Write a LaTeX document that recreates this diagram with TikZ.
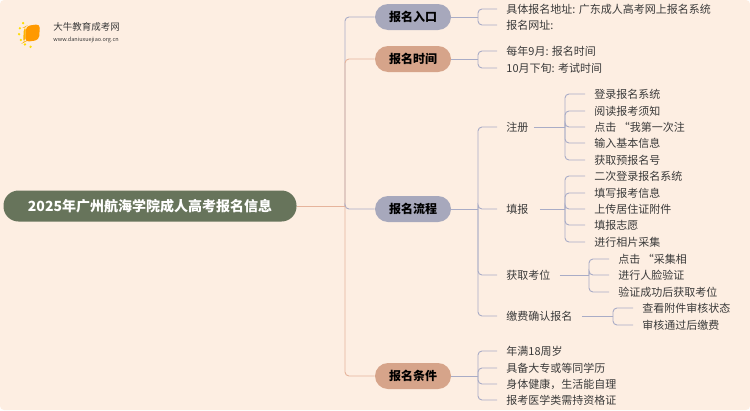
\documentclass[tikz,border=0pt]{standalone}
\usepackage{fontspec}
\setmainfont{Noto Sans CJK SC}
\definecolor{bgc}{HTML}{FDEEE2}
\definecolor{rootc}{HTML}{67745B}
\definecolor{grayc}{HTML}{A7A8BC}
\definecolor{salmc}{HTML}{D6A48A}
\definecolor{glink}{HTML}{A9ACC6}
\definecolor{slink}{HTML}{E6B49C}
\definecolor{txt}{HTML}{3A3A3A}
\begin{document}
\begin{tikzpicture}[x=1pt,y=-1pt]

\tikzset{%
every node/.style={inner sep=1pt, text=txt, font=\fontsize{11}{12}\selectfont},%
every path/.style={line width=.9pt, rounded corners=4pt}%
}

\tikzstyle{root}=[rounded corners=15pt, fill=rootc, minimum width=293, minimum height=31, text=white, font=\fontsize{14}{16}\selectfont\bfseries]
\tikzstyle{topic}=[rounded corners=13pt, minimum width=76, minimum height=26, font=\fontsize{12}{14}\selectfont\bfseries, text=black]
\tikzstyle{leaf}=[anchor=west]
\tikzstyle{gline}=[draw=glink]
\tikzstyle{sline}=[draw=slink]

\fill[bgc] (0,0) rectangle (750,410);

% logo
\fill[orange!80!yellow] (26,26) -- (40,24) -- (39,40) -- (25,42) -- cycle;
\fill[orange!60!yellow] (24,27) -- (26,26) -- (25,42) -- (23,43) -- cycle;
\foreach \a in {100,125,...,225} \fill[yellow!80!orange] (33,33) ++(\a:14) circle (1.3);
\node[leaf, font=\fontsize{9.5}{10}\selectfont] (logo) at (52,27) {大牛教育成考网};
\node[leaf, font=\fontsize{5.5}{6}\selectfont] (url) at (52,40) {www.daniuxuejiao.org.cn};

% root and topics
\node[root] (root) at (150,206) {2025年广州航海学院成人高考报名信息};
\coordinate (trunk) at (345,206);
\node[topic, fill=grayc] (entry) at (413,17) {报名入口};
\node[topic, fill=salmc] (time) at (413,59) {报名时间};
\node[topic, fill=grayc] (flow) at (413,209) {报名流程};
\node[topic, fill=salmc] (cond) at (413,376) {报名条件};
\draw[sline] (root.east) -- (trunk);
\draw[gline] (trunk) |- (entry.west);
\draw[sline] (trunk) |- (time.west);
\draw[gline] (trunk) |- (flow.west);
\draw[sline] (trunk) |- (cond.west);

% leaves of 报名入口 and 报名时间
\node[leaf] (e1) at (505,9) {具体报名地址: 广东成人高考网上报名系统};
\node[leaf] (e2) at (505,25) {报名网址:};
\node[leaf] (t1) at (505,51) {每年9月: 报名时间};
\node[leaf] (t2) at (505,68) {10月下旬: 考试时间};
\coordinate (be) at (478,17);
\coordinate (bt) at (478,59);
\draw[gline] (entry.east) -- (be);
\draw[gline] (time.east) -- (bt);
\foreach \c in {e1,e2} \draw[gline] (be) |- ([xshift=-8pt]\c.west);
\foreach \c in {t1,t2} \draw[gline] (bt) |- ([xshift=-8pt]\c.west);

% 报名流程
\node[leaf] (reg) at (505,127) {注册};
\node[leaf] (fill) at (505,209) {填报};
\node[leaf] (seat) at (505,275) {获取考位};
\node[leaf] (pay) at (505,316) {缴费确认报名};
\coordinate (bf) at (478,209);
\draw[gline] (flow.east) -- (bf);
\foreach \c in {reg,fill,seat,pay} \draw[gline] (bf) |- ([xshift=-8pt]\c.west);

\node[leaf] (r1) at (593,94) {登录报名系统};
\node[leaf] (r2) at (593,111) {阅读报考须知};
\node[leaf] (r3) at (593,127) {点击 “我第一次注};
\node[leaf] (r4) at (593,143) {输入基本信息};
\node[leaf] (r5) at (593,160) {获取预报名号};
\coordinate (br) at (565,127);
\draw[gline] ([xshift=4pt]reg.east) -- (br);
\foreach \c in {r1,r2,r3,r4,r5} \draw[gline] (br) |- ([xshift=-8pt]\c.west);

\node[leaf] (f1) at (593,176) {二次登录报名系统};
\node[leaf] (f2) at (593,193) {填写报考信息};
\node[leaf] (f3) at (593,209) {上传居住证附件};
\node[leaf] (f4) at (593,225) {填报志愿};
\node[leaf] (f5) at (593,242) {进行相片采集};
\coordinate (bp) at (565,209);
\draw[gline] ([xshift=10pt]fill.east) -- (bp);
\foreach \c in {f1,f2,f3,f4,f5} \draw[gline] (bp) |- ([xshift=-8pt]\c.west);

\node[leaf] (s1) at (617,259) {点击 “采集相};
\node[leaf] (s2) at (617,275) {进行人脸验证};
\node[leaf] (s3) at (617,292) {验证成功后获取考位};
\coordinate (bs) at (589,275);
\draw[gline] ([xshift=8pt]seat.east) -- (bs);
\foreach \c in {s1,s2,s3} \draw[gline] (bs) |- ([xshift=-8pt]\c.west);

\node[leaf] (p1) at (641,308) {查看附件审核状态};
\node[leaf] (p2) at (641,325) {审核通过后缴费};
\coordinate (bq) at (613,316);
\draw[gline] ([xshift=8pt]pay.east) -- (bq);
\foreach \c in {p1,p2} \draw[gline] (bq) |- ([xshift=-8pt]\c.west);

% 报名条件
\node[leaf] (c1) at (505,351) {年满18周岁};
\node[leaf] (c2) at (505,368) {具备大专或等同学历};
\node[leaf] (c3) at (505,384) {身体健康，生活能自理};
\node[leaf] (c4) at (505,400) {报考医学类需持资格证};
\coordinate (bc) at (478,376);
\draw[gline] (cond.east) -- (bc);
\foreach \c in {c1,c2,c3,c4} \draw[gline] (bc) |- ([xshift=-8pt]\c.west);

\end{tikzpicture}
\end{document}
